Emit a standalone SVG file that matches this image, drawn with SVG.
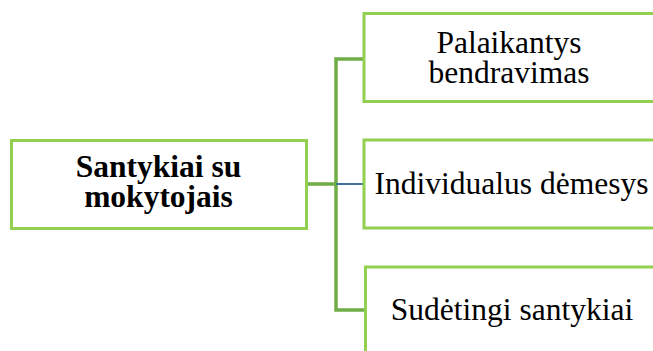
<svg xmlns="http://www.w3.org/2000/svg" width="653" height="351" viewBox="0 0 653 351">
  <style>
    .box { fill: #ffffff; stroke: #92D050; stroke-width: 3; }
    .trunk { fill: none; stroke: #70AD47; stroke-width: 3.5; }
    .link { fill: none; stroke: #41719C; stroke-width: 2; }
    text { font-family: 'Liberation Serif', 'Times New Roman', serif; font-size: 31.5px; fill: #000000; text-anchor: middle; }
    .bold { font-weight: bold; }
  </style>
  <rect width="653" height="351" fill="#ffffff"/>

  <g id="connectors">
    <path class="trunk" d="M306,184 H336 M363,59 H336 V310 H365"/>
    <path class="link" d="M336,184 H363"/>
  </g>

  <g id="root">
    <rect class="box" x="11.5" y="140.5" width="295" height="88"/>
    <text class="bold" x="158.5" y="177">Santykiai su</text>
    <text class="bold" x="158.5" y="207">mokytojais</text>
  </g>

  <g id="palaikantys">
    <rect class="box" x="364" y="13.5" width="300" height="88"/>
    <text x="509" y="53">Palaikantys</text>
    <text x="509" y="83">bendravimas</text>
  </g>

  <g id="individualus">
    <rect class="box" x="364" y="140" width="300" height="88"/>
    <text x="511.5" y="194">Individualus dėmesys</text>
  </g>

  <g id="sudetingi">
    <rect class="box" x="365.5" y="267" width="300" height="100"/>
    <text x="512" y="320">Sudėtingi santykiai</text>
  </g>
</svg>
